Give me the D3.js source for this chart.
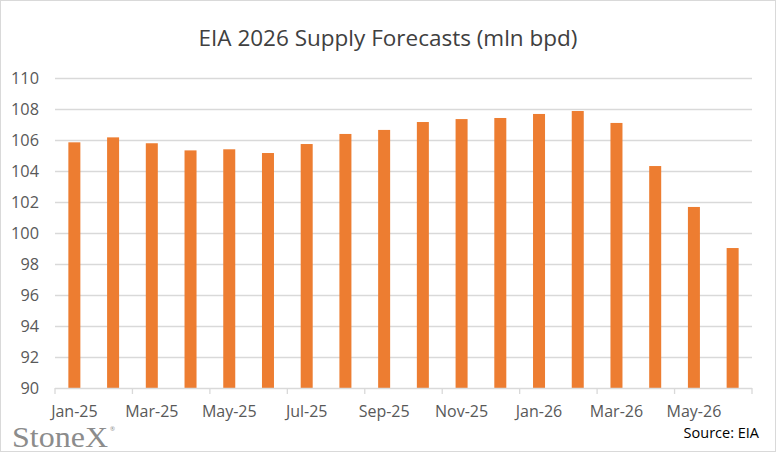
<!DOCTYPE html>
<html>
<head>
<meta charset="utf-8">
<script src="https://cdn.jsdelivr.net/npm/d3@7"></script>
<style>
  body { margin: 0; background: #fff; }
  text { font-family: "Open Sans", Lato, sans-serif; }
</style>
</head>
<body>
<div class="chart"></div>
<script>
// months and EIA supply forecast values (mln bpd)
var months = ["Jan-25", "Feb-25", "Mar-25", "Apr-25", "May-25", "Jun-25", "Jul-25", "Aug-25", "Sep-25",
    "Oct-25", "Nov-25", "Dec-25", "Jan-26", "Feb-26", "Mar-26", "Apr-26", "May-26", "Jun-26"];
var supply = [105.85, 106.17, 105.79, 105.33, 105.4, 105.16, 105.74, 106.39, 106.65,
    107.16, 107.35, 107.42, 107.68, 107.87, 107.1, 104.32, 101.68, 99.03];
var yTicks = [90, 92, 94, 96, 98, 100, 102, 104, 106, 108, 110];

var svgWidth = 777;
var svgHeight = 453;

var svg = d3.select(".chart")
    .append("svg")
    .attr("width", svgWidth)
    .attr("height", svgHeight);

// outer border
svg.append("rect")
    .attr("x", 0.5).attr("y", 0.5)
    .attr("width", svgWidth - 2).attr("height", svgHeight - 2)
    .attr("fill", "#fff")
    .attr("stroke", "#d9d9d9");

// title
svg.append("text")
    .attr("x", 388)
    .attr("y", 46)
    .attr("text-anchor", "middle")
    .attr("font-size", 22.5)
    .attr("fill", "#404040")
    .text("EIA 2026 Supply Forecasts (mln bpd)");

var xScale = d3.scaleBand()
    .domain(months)
    .range([55, 752])
    .paddingInner(0.69)
    .paddingOuter(0.345);

var yScale = d3.scaleLinear()
    .domain([90, 110])
    .range([388, 78]);

// gridlines
svg.append("g")
    .selectAll("line")
    .data(yTicks.slice(1))
    .enter()
    .append("line")
    .attr("x1", 55)
    .attr("x2", 752)
    .attr("y1", d => Math.round(yScale(d)) + 0.5)
    .attr("y2", d => Math.round(yScale(d)) + 0.5)
    .attr("stroke", "#d9d9d9")
    .attr("stroke-width", 1.3);

// y labels
svg.append("g")
    .selectAll("text")
    .data(yTicks)
    .enter()
    .append("text")
    .attr("x", 39)
    .attr("y", d => yScale(d))
    .attr("dy", "0.36em")
    .attr("text-anchor", "end")
    .attr("font-size", 16.3)
    .attr("fill", "#595959")
    .text(d => d);

// bars
svg.append("g")
    .selectAll("rect")
    .data(supply)
    .enter()
    .append("rect")
    .attr("x", (d, i) => xScale(months[i]))
    .attr("width", xScale.bandwidth())
    .attr("y", d => yScale(d))
    .attr("height", d => yScale(90) - yScale(d))
    .attr("fill", "#ed7d31");

// x axis line and ticks every two months
var step = xScale.step();
var axisG = svg.append("g");
axisG.append("line")
    .attr("x1", 55).attr("x2", 752)
    .attr("y1", 388.5).attr("y2", 388.5)
    .attr("stroke", "#d9d9d9")
    .attr("stroke-width", 1.3);
axisG.selectAll(".tick")
    .data(d3.range(0, months.length + 1, 2))
    .enter()
    .append("line")
    .attr("x1", d => 55 + d * step)
    .attr("x2", d => 55 + d * step)
    .attr("y1", 388)
    .attr("y2", 394)
    .attr("stroke", "#d9d9d9")
    .attr("stroke-width", 1.3);

axisG.selectAll("text")
    .data(months.filter((m, i) => i % 2 === 0))
    .enter()
    .append("text")
    .attr("x", d => xScale(d) + xScale.bandwidth() / 2)
    .attr("y", 417)
    .attr("text-anchor", "middle")
    .attr("font-size", 16)
    .attr("fill", "#595959")
    .text(d => d);

// logo and source
svg.append("text")
    .attr("x", 12)
    .attr("y", 447)
    .style("font-family", "'Liberation Serif', 'DejaVu Serif', serif")
    .attr("font-size", 29)
    .attr("textLength", 96)
    .attr("lengthAdjust", "spacingAndGlyphs")
    .attr("fill", "#8c8c8c")
    .text("StoneX");
svg.append("text")
    .attr("x", 110)
    .attr("y", 431)
    .attr("font-size", 6)
    .attr("fill", "#8c8c8c")
    .text("®");

svg.append("text")
    .attr("x", 759)
    .attr("y", 438)
    .attr("text-anchor", "end")
    .attr("font-size", 14.5)
    .attr("fill", "#000")
    .text("Source: EIA");
</script>
</body>
</html>
